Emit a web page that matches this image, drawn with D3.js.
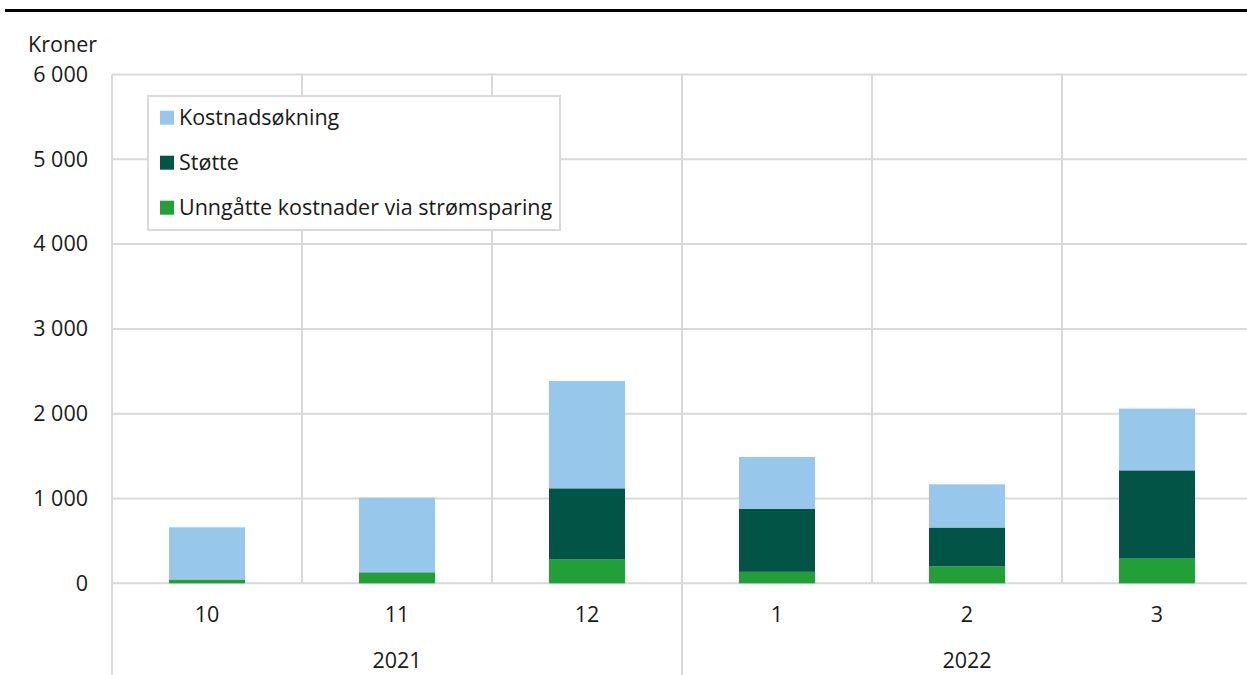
<!DOCTYPE html>
<html>
<head>
<meta charset="utf-8">
<script src="https://cdn.jsdelivr.net/npm/d3@7"></script>
<style>
  html, body { margin: 0; padding: 0; background: #fff; }
  svg { display: block; font-family: "Open Sans", "Noto Sans", sans-serif; }
</style>
</head>
<body>
<svg id="chart" width="1247" height="675"></svg>
<script>
// ---- data ----
const months = ["10", "11", "12", "1", "2", "3"];
const years = ["2021", "2021", "2021", "2022", "2022", "2022"];
const seriesNames = ["Unngåtte kostnader via strømsparing", "Støtte", "Kostnadsøkning"];
const unngatte = [45, 130, 280, 135, 198, 291];
const stotte = [0, 0, 840, 745, 460, 1041];
const kostnadsokning = [615, 880, 1265, 609, 509, 728];
const yTicks = [0, 1000, 2000, 3000, 4000, 5000, 6000];
const legendOrder = ["Kostnadsøkning", "Støtte", "Unngåtte kostnader via strømsparing"];
const colors = {
  "Kostnadsøkning": "#97c7eb",
  "Støtte": "#025446",
  "Unngåtte kostnader via strømsparing": "#21a038"
};

(function () {
const svg = d3.select("#chart");
const mLeft = 112, mRight = 1252, mTop = 74.5, mBottom = 583.3;
const gridColor = "#d9d9d9";
const fs = 21.5;
const txt = "#1a1a1a";

const keys = months.map((m, i) => i);
const x = d3.scaleBand().domain(keys).range([mLeft, mRight]).paddingInner(0.6).paddingOuter(0.3);
const step = x.step();
const y = d3.scaleLinear().domain([0, 6000]).range([mBottom, mTop]);

// horizontal gridlines
svg.append("g").selectAll("line").data(yTicks).join("line")
  .attr("x1", mLeft).attr("x2", 1247)
  .attr("y1", d => y(d)).attr("y2", d => y(d))
  .attr("stroke", gridColor).attr("stroke-width", 2);

// vertical gridlines at band boundaries
const bounds = d3.range(months.length + 1).map(i => mLeft + i * step);
svg.append("g").selectAll("line").data(bounds).join("line")
  .attr("x1", d => d).attr("x2", d => d)
  .attr("y1", mTop)
  .attr("y2", (d, i) => (i === 0 || i === 3) ? 675 : mBottom)
  .attr("stroke", gridColor).attr("stroke-width", 2);

// stacked data
const rows = months.map((m, i) => ({
  i,
  "Unngåtte kostnader via strømsparing": unngatte[i],
  "Støtte": stotte[i],
  "Kostnadsøkning": kostnadsokning[i]
}));
const stack = d3.stack().keys(seriesNames)(rows);

svg.append("g").selectAll("g").data(stack).join("g")
  .attr("fill", d => colors[d.key])
  .selectAll("rect").data(d => d).join("rect")
  .attr("x", d => x(d.data.i))
  .attr("width", x.bandwidth())
  .attr("y", d => y(d[1]))
  .attr("height", d => Math.max(0, y(d[0]) - y(d[1])));

// y axis labels
const fmt = d => d3.format(",")(d).replace(/,/g, " ");
const yAxis = d3.axisLeft(y).tickValues(yTicks).tickFormat(fmt).tickSize(0).tickPadding(0);
const gy = svg.append("g").attr("transform", "translate(88,0)").call(yAxis);
gy.select(".domain").remove();
gy.selectAll("text").attr("font-size", fs).attr("fill", txt)
  .attr("font-family", "'Open Sans', 'Noto Sans', sans-serif");

svg.append("text").attr("x", 97).attr("y", 52).attr("text-anchor", "end")
  .attr("font-size", fs).attr("fill", txt).text("Kroner");

// x axis: months
const xAxis = d3.axisBottom(x).tickFormat(i => months[i]).tickSize(0).tickPadding(0);
const gx = svg.append("g").attr("transform", "translate(0,622)").call(xAxis);
gx.select(".domain").remove();
gx.selectAll("text").attr("font-size", fs).attr("fill", txt).attr("dy", 0).attr("y", 0)
  .attr("font-family", "'Open Sans', 'Noto Sans', sans-serif");

// year labels
const yearGroups = d3.groups(months.map((m, i) => ({ i, year: years[i] })), d => d.year);
svg.append("g").selectAll("text").data(yearGroups).join("text")
  .attr("x", d => (x(d[1][0].i) + x(d[1][d[1].length - 1].i) + x.bandwidth()) / 2)
  .attr("y", 668)
  .attr("text-anchor", "middle").attr("font-size", fs).attr("fill", txt)
  .text(d => d[0]);

// top rule
svg.append("rect").attr("x", 5).attr("y", 9).attr("width", 1242).attr("height", 3).attr("fill", "#000");

// legend
const lg = svg.append("g");
lg.append("rect").attr("x", 148).attr("y", 96).attr("width", 412).attr("height", 134)
  .attr("fill", "#fff").attr("stroke", gridColor).attr("stroke-width", 2);
const items = lg.selectAll("g").data(legendOrder).join("g")
  .attr("transform", (d, i) => `translate(160,${117.7 + i * 45})`);
items.append("rect").attr("x", 0).attr("y", -7).attr("width", 14).attr("height", 14)
  .attr("fill", d => colors[d]);
items.append("text").attr("x", 19).attr("y", 0).attr("dy", "0.35em")
  .attr("font-size", fs).attr("fill", txt).text(d => d);
})();
</script>
</body>
</html>
